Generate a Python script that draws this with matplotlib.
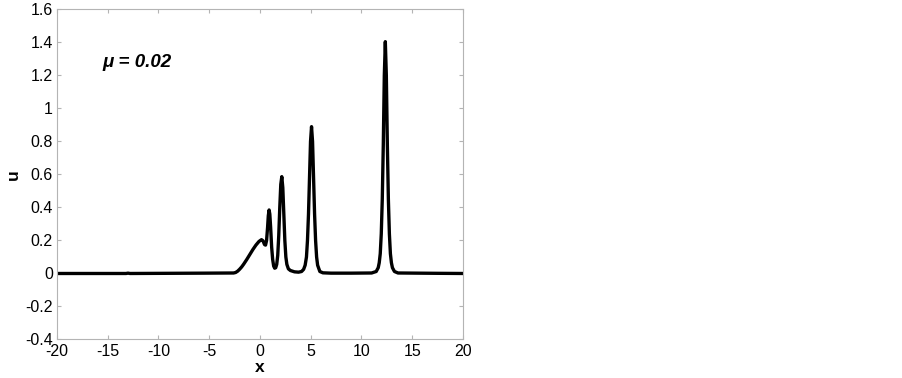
import matplotlib
matplotlib.use("Agg")
import matplotlib.pyplot as plt

# values (mu = 0.02)
x = [-20.0, -13.2, -13.0, -12.8, -5.5, -2.6, -2.4, -2.2, -2.0, -1.8, -1.6, -1.3,
     -1.0, -0.7, -0.4, -0.1, 0.15, 0.3, 0.45, 0.55, 0.65, 0.75, 0.82, 0.9,
     0.97, 1.05, 1.15, 1.25, 1.35, 1.45, 1.55, 1.65, 1.75, 1.85, 1.95, 2.05,
     2.15, 2.25, 2.35, 2.45, 2.55, 2.65, 2.8, 3.0, 3.4, 3.8, 4.1, 4.3, 4.45,
     4.58, 4.68, 4.78, 4.88, 4.98, 5.08, 5.18, 5.28, 5.38, 5.48, 5.58, 5.68, 5.9,
     6.2, 7.0, 9.0, 11.0, 11.45, 11.65, 11.75, 11.85, 11.95, 12.05, 12.15, 12.25,
     12.35, 12.45, 12.55, 12.65, 12.75, 12.85, 12.95, 13.05, 13.25, 13.6, 17.5, 20.0]
u = [0.0, 0.0, 0.002, 0.0, 0.002, 0.003, 0.006, 0.014, 0.026, 0.04, 0.057, 0.085,
     0.115, 0.145, 0.172, 0.194, 0.205, 0.198, 0.175, 0.172, 0.2, 0.28, 0.35, 0.385,
     0.36, 0.28, 0.16, 0.085, 0.045, 0.032, 0.035, 0.055, 0.11, 0.23, 0.4, 0.54,
     0.587, 0.52, 0.36, 0.2, 0.1, 0.055, 0.028, 0.018, 0.01, 0.008, 0.012, 0.025, 0.05,
     0.1, 0.2, 0.36, 0.58, 0.8, 0.89, 0.8, 0.58, 0.36, 0.2, 0.1, 0.05, 0.012,
     0.004, 0.002, 0.002, 0.003, 0.012, 0.035, 0.065, 0.12, 0.24, 0.45, 0.78, 1.2,
     1.405, 1.2, 0.78, 0.45, 0.24, 0.12, 0.065, 0.035, 0.012, 0.003, 0.001, 0.0]

xticks = [-20, -15, -10, -5, 0, 5, 10, 15, 20]
yticks = [-0.4, -0.2, 0, 0.2, 0.4, 0.6, 0.8, 1, 1.2, 1.4, 1.6]
ytick_labels = ["-0.4", "-0.2", "0", "0.2", "0.4", "0.6", "0.8", "1", "1.2", "1.4", "1.6"]

plt.rcParams["font.family"] = ["Liberation Sans", "DejaVu Sans"]
plt.rcParams["axes.unicode_minus"] = False

fig = plt.figure(figsize=(9.03, 3.78), dpi=100)
ax = fig.add_axes([0.0631, 0.1019, 0.4496, 0.873])

ax.plot(x, u, color="black", linewidth=2.4, solid_joinstyle="round")

ax.set_xlim(-20, 20)
ax.set_ylim(-0.4, 1.6)
ax.set_xticks(xticks)
ax.set_yticks(yticks)
ax.set_yticklabels(ytick_labels)

gray = "#b4b4b4"
for s in ax.spines.values():
    s.set_color(gray)
    s.set_linewidth(0.8)
ax.tick_params(direction="in", length=3, width=0.8, color=gray,
               top=True, right=True, labelsize=11.5, labelcolor="black", pad=3)

ax.set_xlabel("x", fontsize=12.5, fontweight="bold", labelpad=1)
ax.set_ylabel("u", fontsize=12.5, fontweight="bold", labelpad=3)

ax.text(-15.5, 1.25, "\u03bc = 0.02", fontsize=13.5, fontweight="bold",
        fontstyle="italic", ha="left", va="baseline")

fig.savefig("out.png", dpi=100)
